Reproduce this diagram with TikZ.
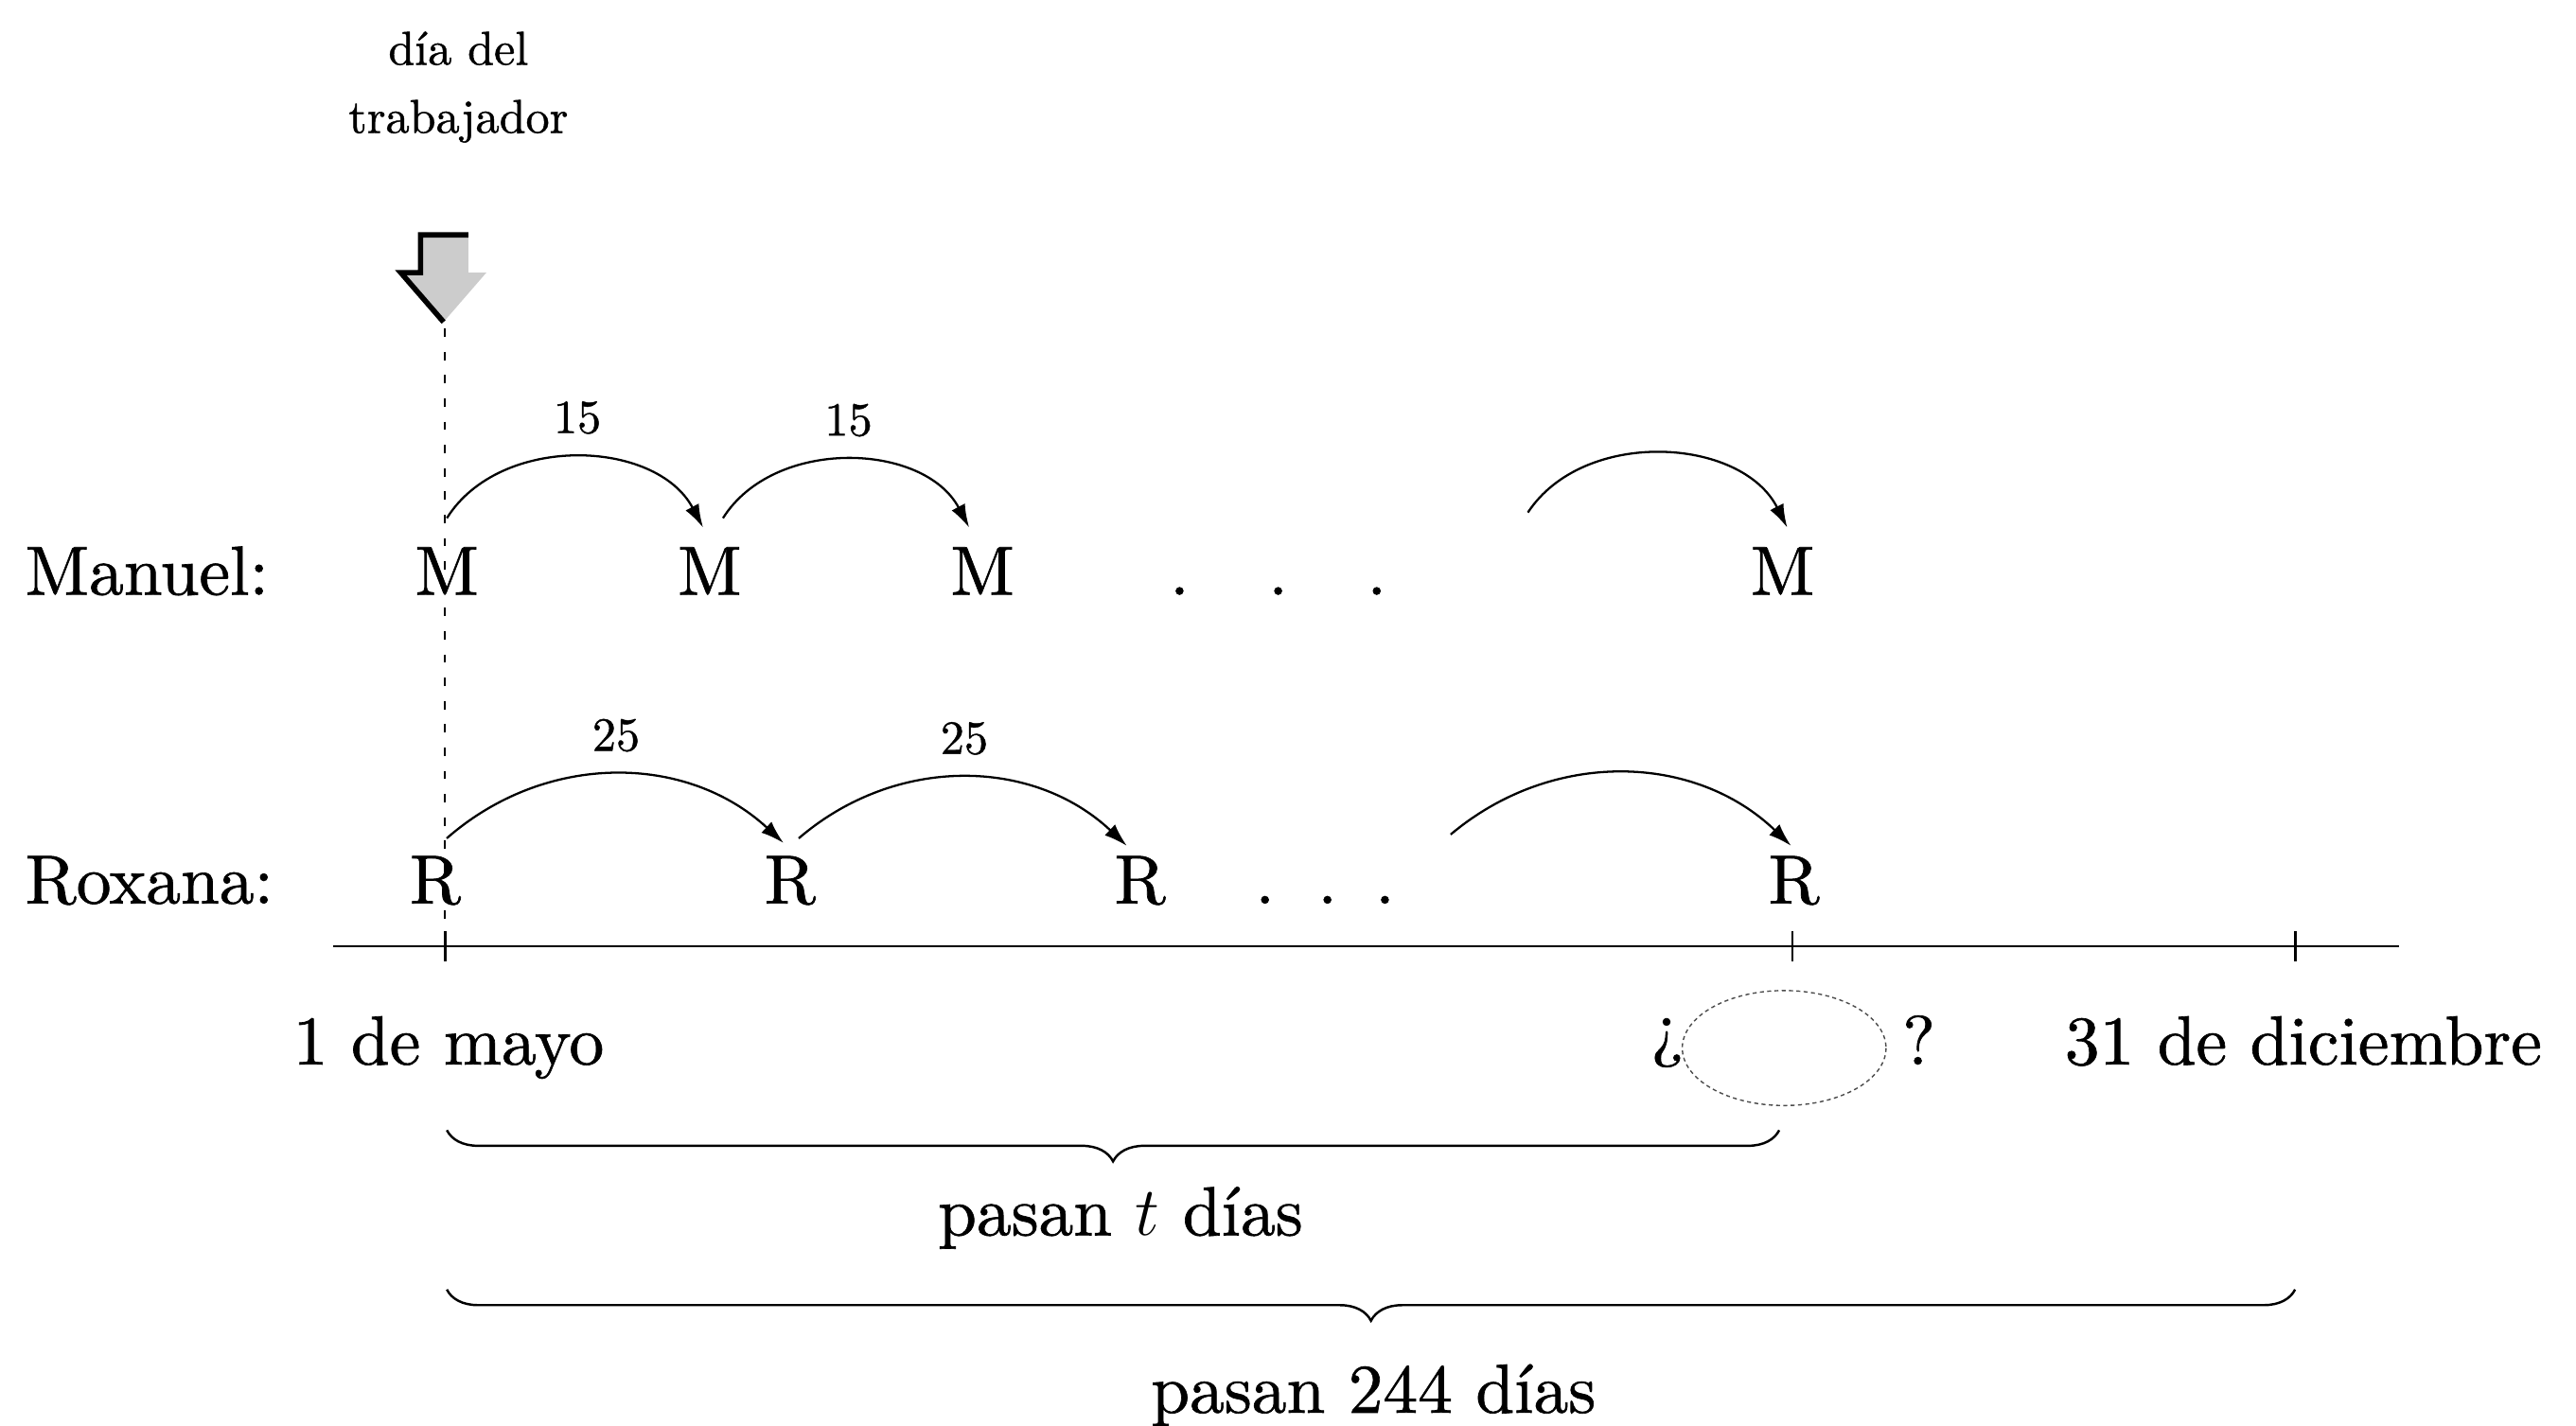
\documentclass[tikz,border=0pt]{standalone}
\usepackage{fontspec}
\newfontfamily\heavyrm{lmroman10-regular.otf}[FakeBold=0.9]
\usepackage{tikz}
\usetikzlibrary{arrows.meta, decorations.pathreplacing, positioning}

\begin{document}
\begin{tikzpicture}[
	x=0.01736cm, y=-0.01736cm,
	every node/.style={font=\heavyrm\fontsize{20.9}{25}\selectfont, inner sep=0pt},
	%% Node styles
	row/.style={anchor=base},
	who/.style={anchor=base west},
	numlbl/.style={font=\heavyrm\fontsize{14.3}{20.5}\selectfont},
	%% Line styles
	jump/.style={-{Latex[length=7pt,width=4.5pt]}, line width=0.65pt},
	axis/.style={line width=0.8pt},
	guide/.style={dash pattern=on 2.5pt off 4.5pt, line width=0.55pt},
	blank/.style={dash pattern=on 1.2pt off 1pt, line width=0.4pt, black!70},
	brc/.style={decorate, decoration={brace, mirror, amplitude=0.33cm},
		line width=0.7pt},
	]
	\useasboundingbox (0,0) rectangle (1568,868);
	
	%% ── Header: label and marker arrow ──────────────────────────────
	\node[numlbl, align=center] (dia) at (279,53) {día del\\trabajador};
	
	\fill[gray!40] (256,143) -- (285,143) -- (285,166) -- (296,166)
	-- (270,196) -- (244,166) -- (256,166) -- cycle;
	\draw[line width=1.6pt] (285,143) -- (256,143) -- (256,166)
	-- (244,166) -- (270,196);
	\coordinate (tip) at (271,200);
	
	%% ── Rows ────────────────────────────────────────────────────────
	\node[who] (manuel) at (15,362) {Manuel:};
	\node[who] (roxana) at (15,550) {Roxana:};
	
	\node[row] (m1) at (272,362)  {M};
	\node[row] (m2) at (432,362)  {M};
	\node[row] (m3) at (598,362)  {M};
	\node[row] (m4) at (1085,362) {M};
	\foreach \x [count=\i] in {718,778,838}
	\node[row] (md\i) at (\x,362) {.};
	
	\node[row] (r1) at (265,550)  {R};
	\node[row] (r2) at (481,550)  {R};
	\node[row] (r3) at (694,550)  {R};
	\node[row] (r4) at (1092,550) {R};
	\foreach \x [count=\i] in {770,808,843}
	\node[row] (rd\i) at (\x,550) {.};
	
	%% ── Jumps ───────────────────────────────────────────────────────
	\coordinate (mfree) at (930,312);
	\coordinate (rfree) at (883,508);
	
	\draw[jump] ([yshift=0.3cm]m1.north) to[bend left=60]
	node[numlbl, above=0.24cm]{15} ([xshift=-0.07cm, yshift=0.2cm]m2.north);
	\draw[jump] ([xshift=0.14cm, yshift=0.3cm]m2.north) to[bend left=60]
	node[numlbl, above=0.24cm]{15} ([xshift=-0.14cm, yshift=0.2cm]m3.north);
	\draw[jump] (mfree) to[bend left=60] ([xshift=0.05cm, yshift=0.2cm]m4.north);
	
	\draw[jump] ([xshift=0.12cm, yshift=0.18cm]r1.north) to[bend left=42]
	node[numlbl, above=0.23cm]{25} ([xshift=-0.07cm, yshift=0.13cm]r2.north);
	\draw[jump] ([xshift=0.09cm, yshift=0.18cm]r2.north) to[bend left=42]
	node[numlbl, above=0.23cm]{25} ([xshift=-0.14cm, yshift=0.1cm]r3.north);
	\draw[jump] (rfree) to[bend left=42] ([xshift=-0.03cm, yshift=0.1cm]r4.north);
	
	%% ── Time axis ───────────────────────────────────────────────────
	\coordinate (t1) at (271,576);
	\coordinate (t2) at (1091,576);
	\coordinate (t3) at (1397,576);
	\draw[axis] (203,576) -- (1460,576);
	\foreach \t in {t1,t2,t3}
	\draw[axis] (\t) ++(0,-9) -- ++(0,18);
	\draw[guide] (tip) -- (t1);
	
	\node[row] (mayo)  at (273,648)  {1 de mayo};
	\node[row] (dic)   at (1402,648) {31 de diciembre};
	\node[row] (qopen)  at (1015,641) {¿};
	\node[row] (qclose) at (1168,648) {?};
	\draw[blank] (1086,638) ellipse [x radius=62, y radius=35];
	
	%% ── Braces ──────────────────────────────────────────────────────
	\draw[brc] (272,688) -- (1083,688);
	\node[row] (tdias) at (682,752) {pasan $t$ días};
	\draw[brc] (272,785) -- (1397,785);
	\node[row] (total) at (836,860) {pasan 244 días};
	
\end{tikzpicture}
\end{document}
